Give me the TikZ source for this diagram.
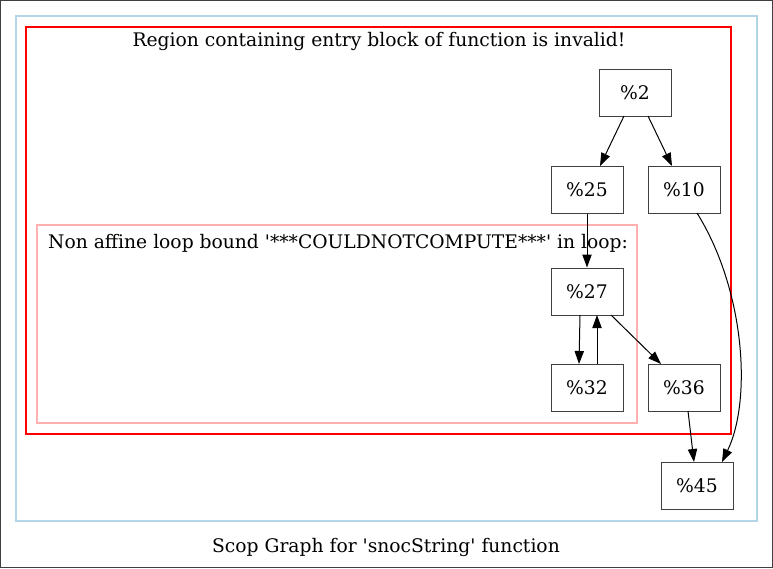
\documentclass[tikz,border=0pt]{standalone}
\usepackage{fontspec}
\setmainfont{DejaVu Serif}
\usetikzlibrary{arrows.meta}
\definecolor{clblue}{HTML}{B4D4E8}
\definecolor{clpink}{HTML}{FFB0B0}
\definecolor{nodegray}{HTML}{404040}
\newcommand{\sq}{\textquotesingle}
\begin{document}
\begin{tikzpicture}[x=1pt,y=-1pt,
  bb/.style={draw=nodegray,line width=1pt,minimum width=72pt,minimum height=47pt,inner sep=0pt,font=\fontsize{18.7}{22}\selectfont},
  edge/.style={draw=black,line width=1pt,-{Triangle[length=13pt,width=9.3pt]}},
  lbl/.style={font=\fontsize{18.7}{22}\selectfont,inner sep=0pt}]
\draw[draw=black!75,line width=1pt] (0.5,0.5) rectangle (772.5,567.5);
\useasboundingbox (0,0) rectangle (773,568);
\draw[clblue,line width=1.3pt] (16,16) rectangle (757,521);
\draw[red,line width=1.1pt] (26,27) rectangle (731,434);
\draw[clpink,line width=1.4pt] (37,225) rectangle (637,423);
\node[lbl] (t1) at (379,41) {Region containing entry block of function is invalid!};
\node[lbl,anchor=west] (t2) at (48,243) {Non affine loop bound \sq***COULDNOTCOMPUTE***\sq{} in loop:};
\node[lbl] (cap) at (386,547) {Scop Graph for \sq snocString\sq{} function};
\node[bb] (n2) at (635,92.5) {\%2};
\node[bb] (n25) at (587,189.5) {\%25};
\node[bb] (n10) at (684,189.5) {\%10};
\node[bb] (n27) at (587,291.5) {\%27};
\node[bb] (n32) at (587,387.5) {\%32};
\node[bb] (n36) at (684,387.5) {\%36};
\node[bb] (n45) at (697,485.5) {\%45};
\draw[edge] (624,116) -- (600,166);
\draw[edge] (648,116) -- (672,166);
\draw[edge] (n25) -- (n27);
\draw[edge] (580,315) -- (579,364);
\draw[edge] (597,364) -- (597,315);
\draw[edge] (611,315) -- (661,364);
\draw[edge] (688,411) -- (694,462);
\draw[edge] (697,213) .. controls (745,290) and (752,400) .. (722,462);
\end{tikzpicture}
\end{document}
